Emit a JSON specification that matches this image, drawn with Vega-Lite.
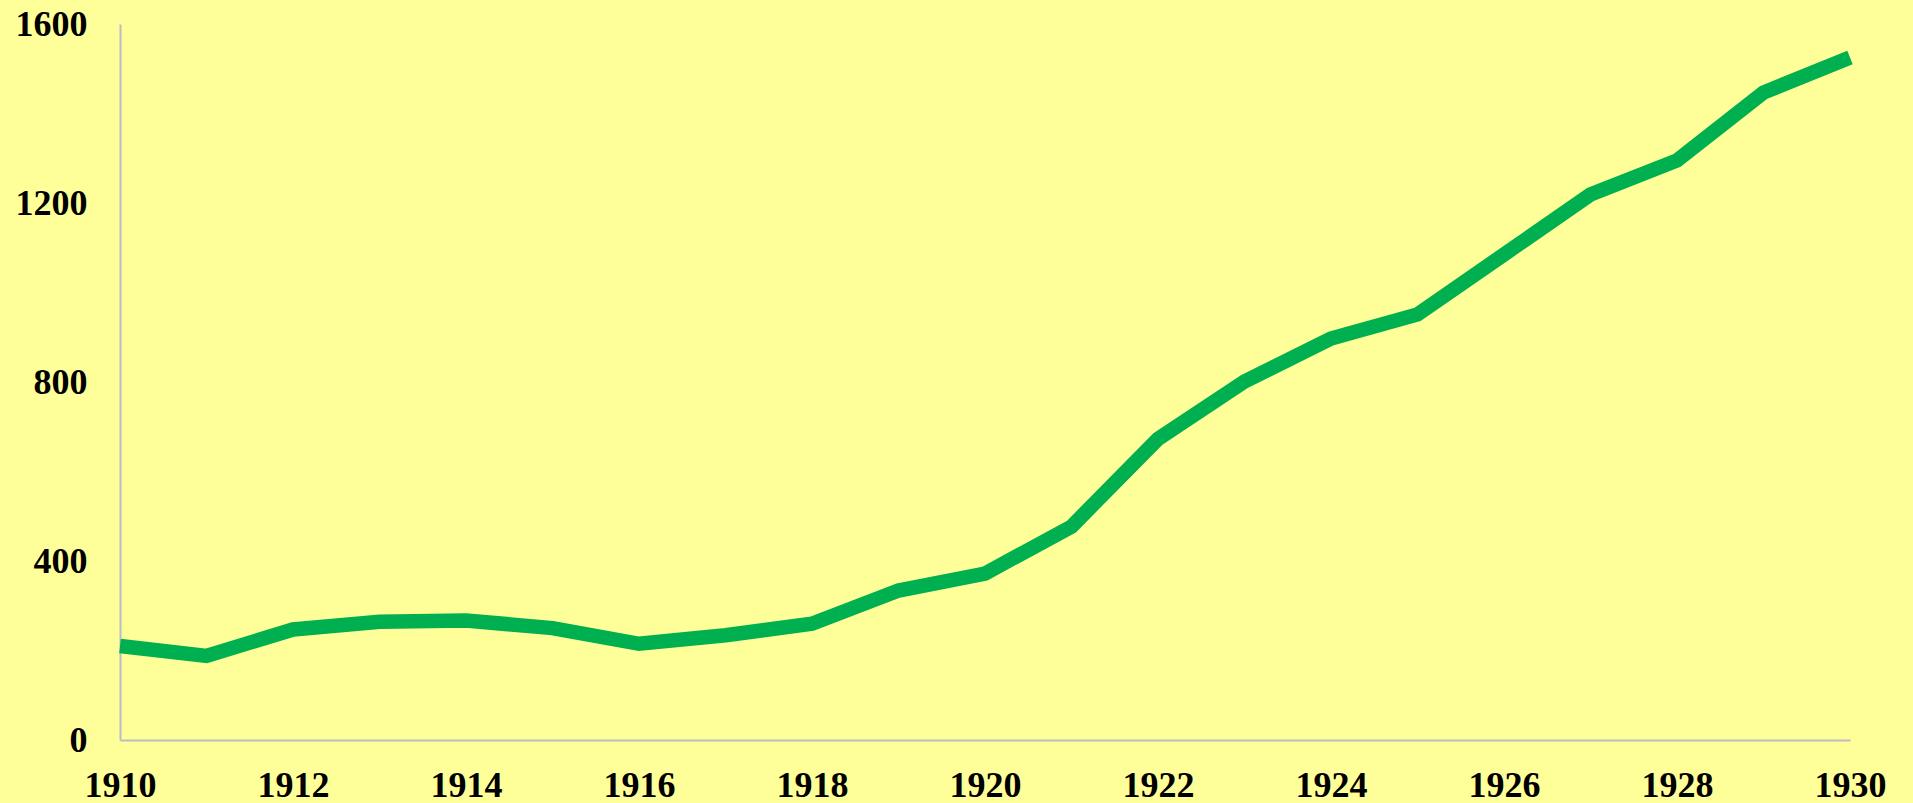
{
  "$schema": "https://vega.github.io/schema/vega-lite/v6.json",
  "width": 1730,
  "height": 716,
  "autosize": {"type": "none"},
  "padding": {"left": 120, "top": 24, "right": 63, "bottom": 63},
  "background": "#ffff99",
  "config": {
    "view": {"stroke": null},
    "axis": {
      "labelFont": "Liberation Serif",
      "labelFontWeight": "bold",
      "labelFontSize": 36,
      "labelColor": "#000000",
      "ticks": false,
      "grid": false,
      "domainColor": "#bcbcc6",
      "domainWidth": 2,
      "title": null
    }
  },
  "data": {
    "values": [
      {"year": 1910, "value": 210},
      {"year": 1911, "value": 188},
      {"year": 1912, "value": 247},
      {"year": 1913, "value": 264},
      {"year": 1914, "value": 267},
      {"year": 1915, "value": 250},
      {"year": 1916, "value": 215},
      {"year": 1917, "value": 234},
      {"year": 1918, "value": 260},
      {"year": 1919, "value": 334},
      {"year": 1920, "value": 372},
      {"year": 1921, "value": 477},
      {"year": 1922, "value": 673},
      {"year": 1923, "value": 801},
      {"year": 1924, "value": 897},
      {"year": 1925, "value": 951},
      {"year": 1926, "value": 1085},
      {"year": 1927, "value": 1219},
      {"year": 1928, "value": 1295},
      {"year": 1929, "value": 1447},
      {"year": 1930, "value": 1525}
    ]
  },
  "mark": {
    "type": "line",
    "color": "#00b050",
    "strokeWidth": 14.5,
    "strokeCap": "butt",
    "strokeJoin": "miter"
  },
  "encoding": {
    "x": {
      "field": "year",
      "type": "quantitative",
      "scale": {"domain": [1910, 1930], "nice": false, "zero": false},
      "axis": {
        "values": [1910, 1912, 1914, 1916, 1918, 1920, 1922, 1924, 1926, 1928, 1930],
        "format": "d",
        "labelPadding": 28,
        "labelOverlap": false,
        "labelFlush": false
      }
    },
    "y": {
      "field": "value",
      "type": "quantitative",
      "scale": {"domain": [0, 1600], "nice": false},
      "axis": {
        "values": [0, 400, 800, 1200, 1600],
        "format": "d",
        "labelPadding": 33,
        "labelOverlap": false,
        "labelFlush": false
      }
    }
  }
}
